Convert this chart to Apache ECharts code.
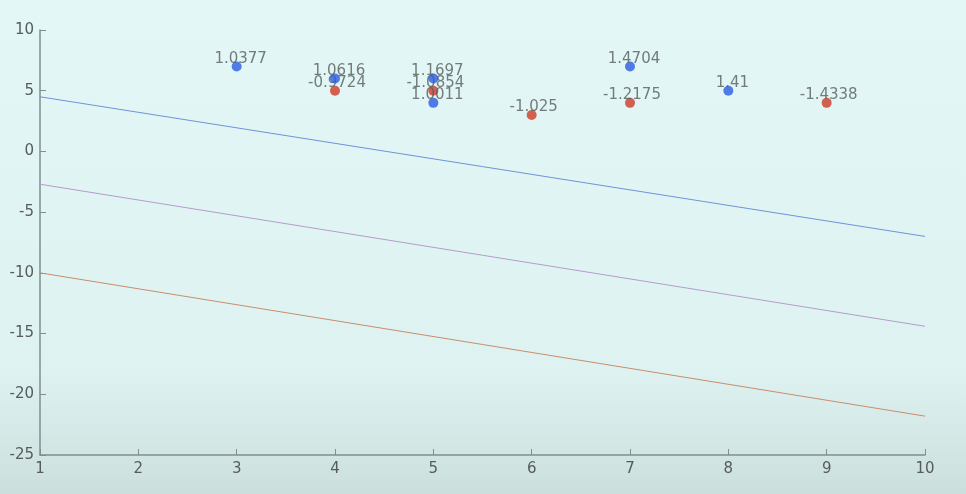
<!DOCTYPE html>
<html>
<head>
<meta charset="utf-8">
<script src="https://cdn.jsdelivr.net/npm/echarts@6/dist/echarts.min.js"></script>
<style>
html, body { margin: 0; padding: 0; }
#main { width: 966px; height: 494px; }
</style>
</head>
<body>
<div id="main"></div>
<script>
// points of class +1 (blue) and -1 (red), with the value printed next to each
var blueX = [3, 4, 5, 5, 7, 8];
var blueY = [7, 6, 6, 4, 7, 5];
var blueText = ['1.0377', '1.0616', '1.1697', '1.0011', '1.4704', '1.41'];

var redX = [4, 5, 6, 7, 9];
var redY = [5, 5, 3, 4, 4];
var redText = ['-0.9724', '-1.0854', '-1.025', '-1.2175', '-1.4338'];

// the three lines, value at x = 1 and x = 10
var lineX = [1, 10];
var topLine = [4.5, -7];
var midLine = [-2.7, -14.4];
var lowLine = [-10, -21.8];

var xTicks = [1, 2, 3, 4, 5, 6, 7, 8, 9, 10];
var yTicks = [-25, -20, -15, -10, -5, 0, 5, 10];

function pts(xs, ys, txt) {
    var out = [];
    for (var i = 0; i < xs.length; i++) {
        out.push(txt ? [xs[i], ys[i], txt[i]] : [xs[i], ys[i]]);
    }
    return out;
}

var axisGray = '#7f8e8e';
var textGray = '#565c5d';
var font = 'DejaVu Sans';

var chart = echarts.init(document.getElementById('main'));

var option = {
    backgroundColor: {
        type: 'linear', x: 0, y: 0, x2: 0, y2: 1,
        colorStops: [
            {offset: 0, color: '#e3f7f6'},
            {offset: 0.75, color: '#def3f1'},
            {offset: 1, color: '#cbdfdd'}
        ]
    },
    animation: false,
    grid: {left: 40, right: 41, top: 30, bottom: 39},
    xAxis: {
        type: 'value',
        min: xTicks[0],
        max: xTicks[xTicks.length - 1],
        interval: 1,
        axisLine: {onZero: false, lineStyle: {color: axisGray, width: 1.5}},
        axisTick: {show: true, inside: true, length: 6, lineStyle: {color: axisGray, width: 1}},
        axisLabel: {color: textGray, fontSize: 15, fontFamily: font, margin: 7},
        splitLine: {show: false}
    },
    yAxis: {
        type: 'value',
        min: yTicks[0],
        max: yTicks[yTicks.length - 1],
        interval: 5,
        axisLine: {show: true, onZero: false, lineStyle: {color: axisGray, width: 1.5}},
        axisTick: {show: true, inside: true, length: 6, lineStyle: {color: axisGray, width: 1}},
        axisLabel: {color: textGray, fontSize: 15, fontFamily: font, margin: 6},
        splitLine: {show: false}
    },
    series: [
        {
            type: 'line',
            data: pts(lineX, topLine),
            symbol: 'none',
            lineStyle: {color: '#6f93d8', width: 1}
        },
        {
            type: 'line',
            data: pts(lineX, midLine),
            symbol: 'none',
            lineStyle: {color: '#b79bcb', width: 1}
        },
        {
            type: 'line',
            data: pts(lineX, lowLine),
            symbol: 'none',
            lineStyle: {color: '#c98d6c', width: 1}
        },
        {
            type: 'scatter',
            data: pts(blueX, blueY, blueText),
            symbolSize: 10,
            itemStyle: {color: '#2a5de4'},
            label: {
                show: true,
                position: 'top',
                distance: 0,
                offset: [4, 5],
                formatter: function (p) { return p.value[2]; },
                color: textGray,
                fontSize: 15,
                fontFamily: font
            },
            z: 5
        },
        {
            type: 'scatter',
            data: pts(redX, redY, redText),
            symbolSize: 10,
            itemStyle: {color: '#cf3a28'},
            label: {
                show: true,
                position: 'top',
                distance: 0,
                offset: [2, 5],
                formatter: function (p) { return p.value[2]; },
                color: textGray,
                fontSize: 15,
                fontFamily: font
            },
            z: 4
        }
    ]
};

chart.setOption(option);
</script>
</body>
</html>
